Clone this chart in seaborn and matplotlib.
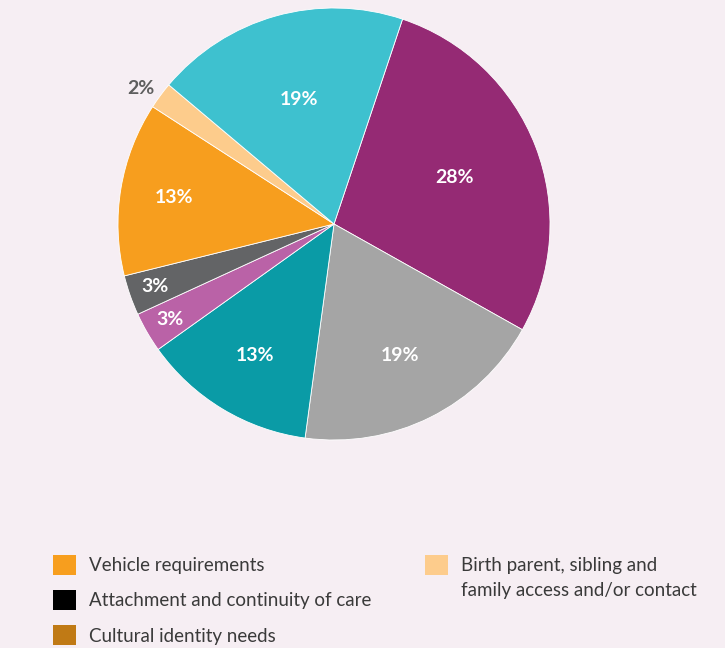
import matplotlib.pyplot as plt
import seaborn as sns
import numpy as np
from matplotlib.patches import Patch

# slices, clockwise from the top-right
slice_values = [28, 19, 13, 3, 3, 13, 2, 19]
slice_colors = ["#952A74", "#A5A5A5", "#0A9BA6", "#BA62A7",
                "#636466", "#F79E1E", "#FDCC8C", "#3EC1CF"]

legend_left = ["Vehicle requirements", "Attachment and continuity of care",
               "Cultural identity needs"]
legend_left_colors = ["#F79E1E", "#000000", "#C07A15"]
legend_right = ["Birth parent, sibling and", "family access and/or contact"]
legend_right_colors = ["#FDCC8C", "none"]

bg = "#F6EEF3"

sns.set_style("white")
plt.rcParams["font.family"] = ["Lato", "DejaVu Sans"]

fig = plt.figure(figsize=(7.25, 6.48), dpi=100)
fig.patch.set_facecolor(bg)

ax = fig.add_axes([118 / 725, (648 - 440) / 648, 432 / 725, 432 / 648])
ax.set_facecolor(bg)

wedges, texts = ax.pie(
    slice_values, colors=slice_colors, startangle=71.5, counterclock=False,
    labels=[f"{v}%" for v in slice_values], labeldistance=0.6,
    wedgeprops=dict(edgecolor="white", linewidth=0.6),
)
ax.set_aspect("equal")
ax.set_xlim(-1, 1)
ax.set_ylim(-1, 1)

# label radius per slice (fraction of pie radius)
label_r = [0.6, 0.68, 0.71, 0.88, 0.88, 0.75, 1.09, 0.6]
for w, t, r in zip(wedges, texts, label_r):
    ang = np.deg2rad((w.theta1 + w.theta2) / 2)
    if r > 1:
        ang += np.deg2rad(1.5)
    t.set_position((r * np.cos(ang), r * np.sin(ang)))
    t.set_ha("center")
    t.set_va("center")
    t.set_fontsize(14)
    t.set_fontweight("bold")
    t.set_color("white" if r < 1 else "#5E5E5E")

common = dict(loc="upper left", frameon=False, fontsize=13.5,
              handlelength=1.25, handleheight=1.25, handletextpad=0.65,
              borderpad=0, borderaxespad=0, labelcolor="#3A3A3A")

handles_l = [Patch(facecolor=c, edgecolor="none") for c in legend_left_colors]
fig.legend(handles_l, legend_left, bbox_to_anchor=(53 / 725, 1 - 555 / 648),
           labelspacing=0.82, **common)
handles_r = [Patch(facecolor=c, edgecolor="none") for c in legend_right_colors]
fig.legend(handles_r, legend_right, bbox_to_anchor=(425 / 725, 1 - 555 / 648),
           labelspacing=0.25, **common)

fig.savefig("out.png", dpi=100, facecolor=bg)
